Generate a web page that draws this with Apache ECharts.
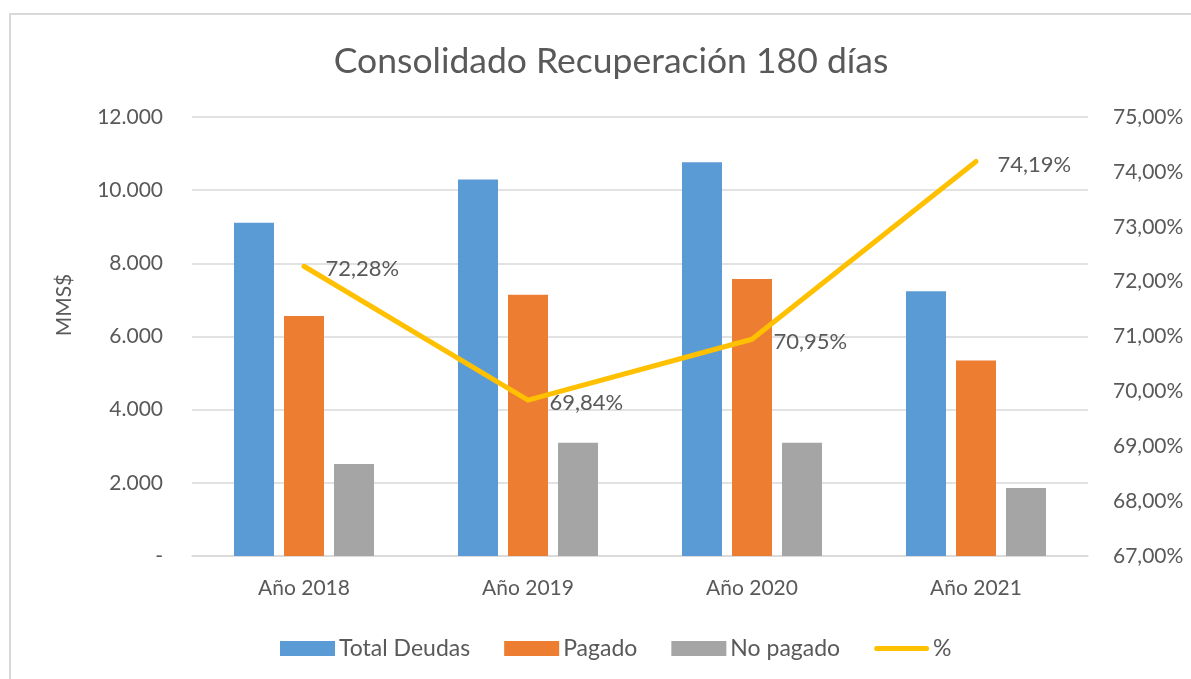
<!DOCTYPE html>
<html><head><meta charset="utf-8">
<script src="https://cdn.jsdelivr.net/npm/echarts@6/dist/echarts.min.js"></script>
<style>html,body{margin:0;padding:0;background:#fff}#c{width:1191px;height:679px}</style>
</head><body><div id="c"></div>
<script>
const categories = ['Año 2018', 'Año 2019', 'Año 2020', 'Año 2021'];
const totalDeudas = [9110, 10290, 10760, 7240];
const pagado = [6560, 7140, 7575, 5345];
const noPagado = [2515, 3095, 3095, 1860];
const pct = [72.28, 69.84, 70.95, 74.19];
const seriesNames = ['Total Deudas', 'Pagado', 'No pagado', '%'];

const FONT = 'Lato';
const TXT = '#595959';
const FS = 21;
const fmtPct = v => v.toFixed(2).replace('.', ',') + '%';
const fmtNum = v => v === 0 ? '-' : String(v).replace(/\B(?=(\d{3})+(?!\d))/g, '.');

const chart = echarts.init(document.getElementById('c'));
chart.setOption({
  animation: false,
  textStyle: {fontFamily: FONT, color: TXT},
  title: {
    text: 'Consolidado Recuperación 180 días',
    left: 606, top: 39, textAlign: 'center',
    textStyle: {fontFamily: FONT, fontSize: 35.5, fontWeight: 'normal', color: TXT}
  },
  graphic: [
    {type: 'rect', shape: {x: 10, y: 14, width: 1300, height: 800},
     style: {fill: 'none', stroke: '#d9d9d9', lineWidth: 2}, silent: true},
    {type: 'text', x: 64, y: 305, rotation: Math.PI / 2,
     style: {text: 'MMS$', fontFamily: FONT, fontSize: FS, fill: TXT, align: 'center', verticalAlign: 'middle'}}
  ],
  legend: {
    top: 632, left: 275, itemGap: 34, itemWidth: 55, itemHeight: 15,
    textStyle: {fontFamily: FONT, fontSize: 23, color: TXT, padding: [0, 0, 0, -1]},
    data: seriesNames.map((n, i) => i === 3
      ? {name: n, icon: 'path://M2.5,0 L52.5,0 A2.5,2.5 0 0 1 52.5,5 L2.5,5 A2.5,2.5 0 0 1 2.5,0 Z', itemStyle: {color: '#FFC000'}}
      : {name: n, icon: 'rect'})
  },
  grid: {left: 192, right: 103, top: 117, bottom: 123},
  xAxis: {
    type: 'category', data: categories,
    axisLine: {lineStyle: {color: '#d9d9d9', width: 1.5}},
    axisTick: {show: false},
    axisLabel: {fontFamily: FONT, fontSize: FS, color: TXT, margin: 22}
  },
  yAxis: [
    {type: 'value', min: 0, max: 12000, interval: 2000,
     axisLabel: {formatter: fmtNum, fontFamily: FONT, fontSize: FS, color: TXT, margin: 29},
     axisLine: {show: false}, axisTick: {show: false},
     splitLine: {lineStyle: {color: '#d9d9d9', width: 1.5}}},
    {type: 'value', min: 67, max: 75, interval: 1, position: 'right',
     axisLabel: {formatter: fmtPct, fontFamily: FONT, fontSize: FS, color: TXT, margin: 25},
     axisLine: {show: false}, axisTick: {show: false}, splitLine: {show: false}}
  ],
  series: [
    {name: seriesNames[0], type: 'bar', data: totalDeudas, barWidth: 40, barGap: '25%', itemStyle: {color: '#5B9BD5'}},
    {name: seriesNames[1], type: 'bar', data: pagado, barWidth: 40, barGap: '25%', itemStyle: {color: '#ED7D31'}},
    {name: seriesNames[2], type: 'bar', data: noPagado, barWidth: 40, barGap: '25%', itemStyle: {color: '#A5A5A5'}},
    {name: seriesNames[3], type: 'line', yAxisIndex: 1, data: pct,
     symbol: 'circle', symbolSize: 1, showSymbol: true,
     lineStyle: {color: '#FFC000', width: 5, cap: 'round', join: 'round'}, itemStyle: {color: '#FFC000'},
     label: {show: true, position: 'right', distance: 21, offset: [0, 3],
       formatter: p => fmtPct(p.value), fontFamily: FONT, fontSize: 22, color: TXT}}
  ]
});
</script></body></html>
